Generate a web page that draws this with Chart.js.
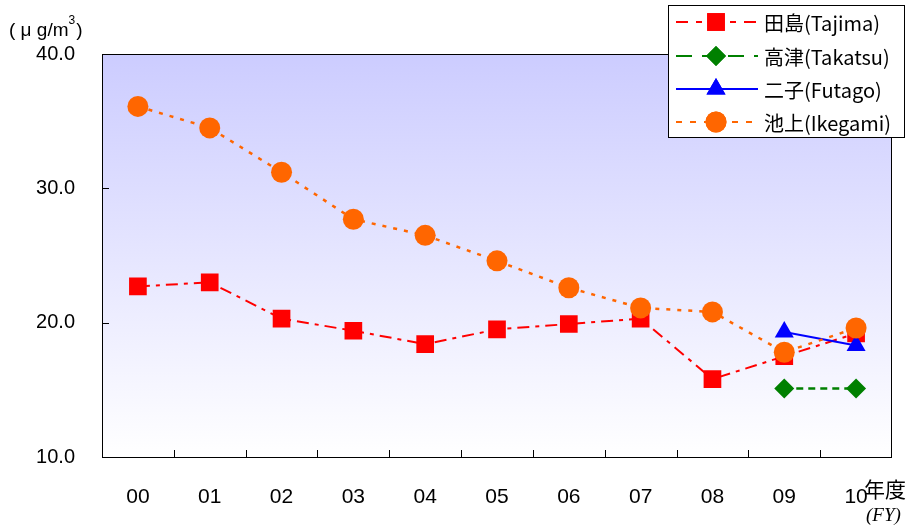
<!DOCTYPE html>
<html>
<head>
<meta charset="utf-8">
<script src="https://cdn.jsdelivr.net/npm/chart.js@4.4.1/dist/chart.umd.min.js"></script>
<style>
  html, body { margin: 0; padding: 0; background: #fff; }
  #wrap { width: 912px; height: 531px; position: relative; }
</style>
</head>
<body>
<div id="wrap"><canvas id="pm"></canvas></div>
<script>
// 年度 (FY) labels
const years = ['00', '01', '02', '03', '04', '05', '06', '07', '08', '09', '10'];
// annual mean values (μg/m3)
const tajima  = [22.7, 23.0, 20.3, 19.4, 18.4, 19.5, 19.9, 20.3, 15.8, 17.5, 19.2];
const takatsu = [null, null, null, null, null, null, null, null, null, 15.1, 15.1];
const futago  = [null, null, null, null, null, null, null, null, null, 19.3, 18.3];
const ikegami = [36.1, 34.5, 31.2, 27.7, 26.5, 24.6, 22.6, 21.1, 20.8, 17.8, 19.6];
const yTicks = [10, 20, 30, 40];

const names = ['田島(Tajima)', '高津(Takatsu)', '二子(Futago)', '池上(Ikegami)'];
const red = '#ff0000', green = '#008000', blue = '#0000ff', orange = '#ff6600';
const labelFont = "'Liberation Sans', Arial, sans-serif";
const cjkFont = "'Noto Sans CJK JP', sans-serif";

// plot area background + frame + inside ticks
const plotFrame = {
    id: 'plotFrame',
    beforeDatasetsDraw(chart) {
        const { ctx, chartArea: a } = chart;
        const g = ctx.createLinearGradient(0, a.top, 0, a.bottom);
        g.addColorStop(0, '#ccccff');
        g.addColorStop(1, '#ffffff');
        ctx.save();
        ctx.fillStyle = g;
        ctx.fillRect(a.left, a.top, a.right - a.left, a.bottom - a.top);
        ctx.strokeStyle = '#000';
        ctx.lineWidth = 1;
        ctx.strokeRect(a.left + 0.5, a.top + 0.5, a.right - a.left - 1, a.bottom - a.top);
        ctx.beginPath();
        const ys = chart.scales.y;
        yTicks.forEach(v => {
            const py = Math.round(ys.getPixelForValue(v)) + 0.5;
            ctx.moveTo(a.left, py);
            ctx.lineTo(a.left + 7, py);
        });
        const step = (a.right - a.left) / years.length;
        for (let i = 1; i < years.length; i++) {
            const px = Math.round(a.left + step * i) + 0.5;
            ctx.moveTo(px, a.bottom);
            ctx.lineTo(px, a.bottom - 7);
        }
        ctx.stroke();
        ctx.restore();
    }
};

// legend box, unit text, FY text
const extras = {
    id: 'extras',
    afterDraw(chart) {
        const ctx = chart.ctx;
        ctx.save();
        // legend
        ctx.fillStyle = '#fff';
        ctx.fillRect(668, 5, 237, 133);
        ctx.strokeStyle = '#000';
        ctx.lineWidth = 1;
        ctx.strokeRect(668.5, 5.5, 236, 132);
        const rows = [22, 56, 89, 122];
        chart.data.datasets.forEach((ds, i) => {
            const y = rows[i];
            ctx.save();
            ctx.strokeStyle = ds.borderColor;
            ctx.lineWidth = 2;
            ctx.setLineDash(ds.legendDash);
            ctx.beginPath();
            ctx.moveTo(676, y);
            ctx.lineTo(758, y);
            ctx.stroke();
            ctx.restore();
            ctx.fillStyle = ds.pointBackgroundColor;
            Chart.helpers.drawPoint(ctx, {
                pointStyle: ds.pointStyle, radius: ds.pointRadius, rotation: 0, borderWidth: 0
            }, 716, y);
            ctx.fill();
            ctx.fillStyle = '#000';
            ctx.font = '20px ' + cjkFont;
            ctx.textBaseline = 'middle';
            ctx.textAlign = 'left';
            ctx.fillText(names[i], 764, y + 1);
        });
        // unit label
        ctx.fillStyle = '#000';
        ctx.textBaseline = 'alphabetic';
        ctx.textAlign = 'left';
        ctx.font = '19px ' + labelFont;
        let x = 9;
        const parts = ['(', ' μ', ' g/m'];
        parts.forEach(p => { ctx.fillText(p, x, 36); x += ctx.measureText(p).width; });
        ctx.font = '12px ' + labelFont;
        ctx.fillText('3', x, 24);
        x += ctx.measureText('3').width + 1;
        ctx.font = '19px ' + labelFont;
        ctx.fillText(')', x, 36);
        // 年度 and (FY)
        ctx.font = '21px ' + cjkFont;
        ctx.textBaseline = 'middle';
        ctx.fillText('年度', 864, 489);
        ctx.font = 'italic 19px "Liberation Serif", serif';
        ctx.fillText('(FY)', 866, 516);
        ctx.restore();
    }
};

new Chart(document.getElementById('pm'), {
    type: 'line',
    data: {
        labels: years,
        datasets: [
            {
                label: names[0], data: tajima, order: 3,
                borderColor: red, borderWidth: 2, borderDash: [12, 6, 4, 6], legendDash: [12, 8, 6, 8],
                pointStyle: 'rect', pointRadius: 12.5, pointBackgroundColor: red, pointBorderWidth: 0
            },
            {
                label: names[1], data: takatsu, order: 2,
                borderColor: green, borderWidth: 2.5, borderDash: [7, 5], legendDash: [16, 10],
                pointStyle: 'rectRot', pointRadius: 10, pointBackgroundColor: green, pointBorderWidth: 0
            },
            {
                label: names[2], data: futago, order: 1,
                borderColor: blue, borderWidth: 2, borderDash: [], legendDash: [],
                pointStyle: 'triangle', pointRadius: 11, pointBackgroundColor: blue, pointBorderWidth: 0
            },
            {
                label: names[3], data: ikegami, order: 0,
                borderColor: orange, borderWidth: 2.5, borderDash: [4, 7], legendDash: [6, 8],
                pointStyle: 'circle', pointRadius: 10.5, pointBackgroundColor: orange, pointBorderWidth: 0
            }
        ]
    },
    options: {
        responsive: true,
        maintainAspectRatio: false,
        animation: false,
        layout: { padding: { left: 0, right: 20, top: 54, bottom: 0 } },
        plugins: {
            legend: { display: false },
            tooltip: { enabled: false }
        },
        scales: {
            x: {
                offset: true,
                grid: { display: false },
                border: { display: false },
                ticks: {
                    color: '#000', padding: 20, maxRotation: 0,
                    font: { family: labelFont, size: 21 }
                },
                afterFit(s) { s.height = 531 - 457; }
            },
            y: {
                min: 10, max: 40,
                grid: { display: false },
                border: { display: false },
                ticks: {
                    stepSize: 10, color: '#000', padding: 19,
                    font: { family: labelFont, size: 20 },
                    callback: v => v.toFixed(1)
                },
                afterFit(s) { s.width = 102; }
            }
        }
    },
    plugins: [plotFrame, extras]
});
</script>
</body>
</html>
